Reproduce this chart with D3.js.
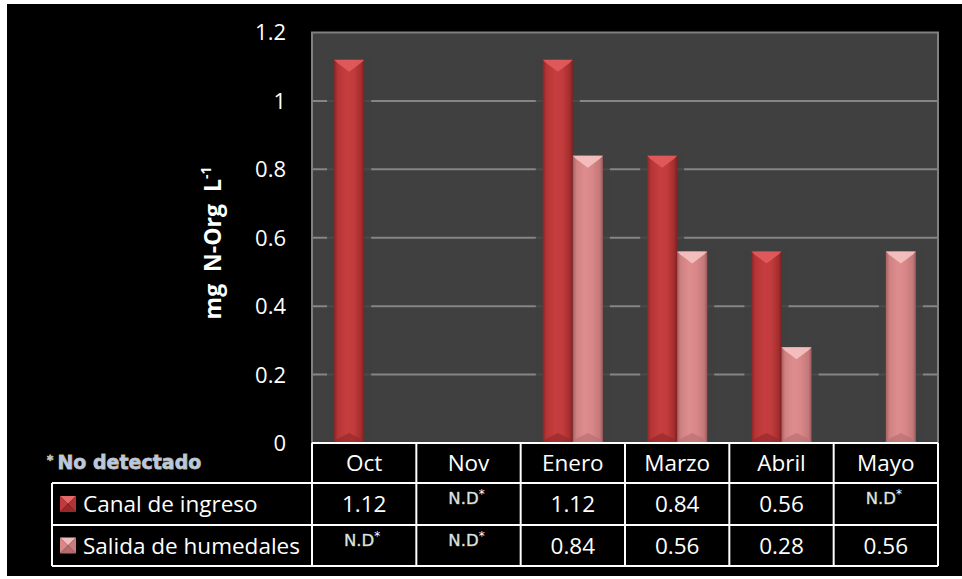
<!DOCTYPE html>
<html>
<head>
<meta charset="utf-8">
<script src="https://cdn.jsdelivr.net/npm/d3@7"></script>
<style>
  html, body { margin: 0; padding: 0; background: #ffffff; }
  svg { display: block; }
</style>
</head>
<body>
<div id="chart"></div>
<script>
const months = ["Oct", "Nov", "Enero", "Marzo", "Abril", "Mayo"];
const seriesNames = ["Canal de ingreso", "Salida de humedales"];
const canalValues = [1.12, null, 1.12, 0.84, 0.56, null];
const salidaValues = [null, null, 0.84, 0.56, 0.28, 0.56];
const yTicks = [0, 0.2, 0.4, 0.6, 0.8, 1.0, 1.2];
const notDetected = "N.D";
const footnote = "No detectado";
const yTitle = "mg  N-Org  L";

const width = 962, height = 579;
const plot = { left: 312, right: 938, top: 32.5, bottom: 443 };
const rowH = [40, 42, 41];

const series = [
  { name: seriesNames[0], values: canalValues,
    stops: ["#8c2425", "#b53435", "#c53d3e", "#c33c3d", "#a42d2e", "#7f1f20"],
    top: "#e25c5d", bottom: "#962a2b", icon: ["#e46a6a", "#c23a3b", "#9a2829", "#b33334"] },
  { name: seriesNames[1], values: salidaValues,
    stops: ["#a65f60", "#cf8182", "#de8d8e", "#d98788", "#c27879", "#9c5859"],
    top: "#f6c2c2", bottom: "#b87172", icon: ["#f3bcbc", "#d98889", "#b56c6d", "#c97c7d"] }
];

const svg = d3.select("#chart").append("svg")
  .attr("width", width)
  .attr("height", height);

const defs = svg.append("defs");
series.forEach((s, i) => {
  const g = defs.append("linearGradient")
    .attr("id", "grad" + i)
    .attr("x1", "0%").attr("x2", "100%").attr("y1", "0%").attr("y2", "0%");
  const offs = [0, 0.12, 0.4, 0.65, 0.9, 1];
  s.stops.forEach((c, k) => g.append("stop").attr("offset", offs[k]).attr("stop-color", c));
});

// black card
svg.append("rect")
  .attr("x", 7).attr("y", 4)
  .attr("width", width - 7).attr("height", 572)
  .attr("fill", "#000");

const x = d3.scaleBand()
  .domain(months)
  .range([plot.left, plot.right]);

const xInner = d3.scaleBand()
  .domain(seriesNames)
  .range([x.bandwidth() * 0.212, x.bandwidth() * 0.788]);

const y = d3.scaleLinear()
  .domain([0, 1.2])
  .range([plot.bottom, plot.top]);

// plot area
svg.append("rect")
  .attr("x", plot.left).attr("y", plot.top)
  .attr("width", plot.right - plot.left)
  .attr("height", plot.bottom - plot.top)
  .attr("fill", "#404040");

svg.append("g")
  .selectAll("line")
  .data(yTicks.filter(d => d > 0 && d < 1.2))
  .join("line")
  .attr("x1", plot.left).attr("x2", plot.right)
  .attr("y1", d => y(d)).attr("y2", d => y(d))
  .attr("stroke", "#858585")
  .attr("stroke-width", 2);

svg.append("rect")
  .attr("x", plot.left).attr("y", plot.top)
  .attr("width", plot.right - plot.left)
  .attr("height", plot.bottom - plot.top)
  .attr("fill", "none")
  .attr("stroke", "#808080")
  .attr("stroke-width", 2);

// y tick labels
svg.append("g")
  .selectAll("text")
  .data(yTicks)
  .join("text")
  .attr("x", 286)
  .attr("y", d => y(d))
  .attr("dy", "0.36em")
  .attr("text-anchor", "end")
  .attr("font-family", "Open Sans, sans-serif")
  .attr("font-size", 22)
  .attr("fill", "#fff")
  .text(d => String(+d.toFixed(1)));

// y title
const title = svg.append("text")
  .attr("transform", "translate(221,243) rotate(-90)")
  .attr("text-anchor", "middle")
  .attr("font-family", "Open Sans, sans-serif")
  .attr("font-weight", "bold")
  .attr("font-size", 23)
  .attr("fill", "#fff")
  .attr("xml:space", "preserve");
title.append("tspan").text(yTitle);
title.append("tspan").attr("font-size", 14).attr("dy", -10).text("-1");

// bars
const bars = [];
series.forEach((s, si) => {
  s.values.forEach((v, mi) => {
    if (v == null) return;
    bars.push({ si, v, x0: x(months[mi]) + xInner(s.name), w: xInner.bandwidth() });
  });
});

const barG = svg.append("g");
barG.selectAll("rect.shadow")
  .data(bars)
  .join("rect")
  .attr("class", "shadow")
  .attr("x", d => d.x0 - 7)
  .attr("y", d => y(d.v))
  .attr("width", d => d.w + 14)
  .attr("height", d => y(0) - y(d.v) - 1)
  .attr("fill", "#404040")
  .attr("opacity", 0.85);

const bev = 9;
const barSel = barG.selectAll("g.bar")
  .data(bars)
  .join("g")
  .attr("class", "bar");

barSel.append("rect")
  .attr("x", d => d.x0)
  .attr("y", d => y(d.v))
  .attr("width", d => d.w)
  .attr("height", d => y(0) - y(d.v) - 1)
  .attr("fill", d => `url(#grad${d.si})`);

barSel.append("polygon")
  .attr("points", d => {
    const t = y(d.v), r = d.x0 + d.w;
    return [[d.x0, t], [r, t], [r - 3, t + 3], [d.x0 + d.w / 2, t + bev + 3], [d.x0 + 3, t + 3]].join(" ");
  })
  .attr("fill", d => series[d.si].top)
  .attr("opacity", 0.9);

barSel.append("polygon")
  .attr("points", d => {
    const b = y(0) - 1, r = d.x0 + d.w;
    return [[d.x0, b], [r, b], [r - 3, b - 3], [d.x0 + d.w / 2, b - bev], [d.x0 + 3, b - 3]].join(" ");
  })
  .attr("fill", d => series[d.si].bottom)
  .attr("opacity", 0.7);

// table
const rowY = [plot.bottom, plot.bottom + rowH[0], plot.bottom + rowH[0] + rowH[1], plot.bottom + rowH[0] + rowH[1] + rowH[2]];
const labelLeft = 52;
const table = svg.append("g")
  .attr("stroke", "#fff")
  .attr("stroke-width", 2);

table.append("line").attr("x1", plot.left).attr("x2", plot.right).attr("y1", rowY[0]).attr("y2", rowY[0]);
[1, 2, 3].forEach(k => table.append("line")
  .attr("x1", labelLeft).attr("x2", plot.right).attr("y1", rowY[k]).attr("y2", rowY[k]));
table.append("line").attr("x1", labelLeft).attr("x2", labelLeft).attr("y1", rowY[1]).attr("y2", rowY[3]);
months.concat([null]).forEach((m, i) => {
  const xx = m ? x(m) : plot.right;
  table.append("line").attr("x1", xx).attr("x2", xx).attr("y1", rowY[0]).attr("y2", rowY[3]);
});

const txt = svg.append("g")
  .attr("font-family", "Open Sans, sans-serif")
  .attr("font-size", 22.5)
  .attr("fill", "#fff");

txt.selectAll("text.month")
  .data(months)
  .join("text")
  .attr("class", "month")
  .attr("x", d => x(d) + x.bandwidth() / 2)
  .attr("y", (rowY[0] + rowY[1]) / 2)
  .attr("dy", "0.36em")
  .attr("text-anchor", "middle")
  .text(d => d);

function drawND(g, cx, cy) {
  const t = g.append("text")
    .attr("x", cx)
    .attr("y", cy)
    .attr("dy", "0.2em")
    .attr("text-anchor", "middle")
    .attr("font-family", "DejaVu Sans, sans-serif")
    .attr("font-size", 16.5)
    .attr("fill", "#d6e4ee")
    .attr("stroke", "#b89a55")
    .attr("stroke-width", 0.5)
    .attr("paint-order", "stroke");
  t.append("tspan").text(notDetected);
  t.append("tspan").attr("dy", -6).attr("font-size", 12).attr("fill", "#fff").attr("stroke", "none").text("*");
}

series.forEach((s, si) => {
  const cy = (rowY[si + 1] + rowY[si + 2]) / 2;
  // legend icon
  const ix = 60, iy = cy - 8, is = 16;
  const c = [ix + is / 2, iy + is / 2];
  const faces = [
    [[ix, iy], [ix + is, iy], c],
    [[ix, iy], [ix, iy + is], c],
    [[ix, iy + is], [ix + is, iy + is], c],
    [[ix + is, iy], [ix + is, iy + is], c]
  ];
  svg.append("g").selectAll("polygon")
    .data(faces)
    .join("polygon")
    .attr("points", d => d.join(" "))
    .attr("fill", (d, k) => s.icon[k]);

  txt.append("text")
    .attr("x", 83)
    .attr("y", cy)
    .attr("dy", "0.36em")
    .text(s.name);

  s.values.forEach((v, mi) => {
    const cx = x(months[mi]) + x.bandwidth() / 2;
    if (v == null) {
      drawND(svg, cx - 2, cy - 3);
    } else {
      txt.append("text")
        .attr("x", cx)
        .attr("y", cy)
        .attr("dy", "0.36em")
        .attr("text-anchor", "middle")
        .text(v.toFixed(2));
    }
  });
});

// footnote
const fn = svg.append("text")
  .attr("x", 47)
  .attr("y", 469)
  .attr("font-family", "DejaVu Sans, sans-serif")
  .attr("font-weight", "bold")
  .attr("font-size", 19)
  .attr("fill", "#b4c8e8")
  .attr("stroke", "#d2aa5a")
  .attr("stroke-width", 0.8)
  .attr("paint-order", "stroke");
fn.append("tspan").attr("font-size", 12).attr("dy", -5).text("* ");
fn.append("tspan").attr("dy", 5).text(footnote);
</script>
</body>
</html>
